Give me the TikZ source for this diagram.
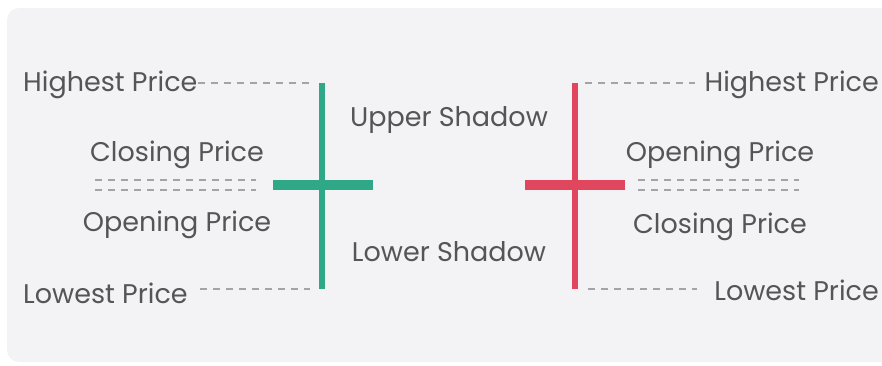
\documentclass[tikz,border=0pt]{standalone}
\usepackage{fontspec}
\setmainfont{Poppins}
\definecolor{panel}{HTML}{F3F3F6}
\definecolor{bull}{HTML}{2EA886}
\definecolor{bear}{HTML}{E0465E}
\definecolor{txt}{HTML}{555555}
\definecolor{dash}{HTML}{A4A4A8}
\begin{document}
\begin{tikzpicture}[x=1pt,y=-1pt,
  lbl/.style={font=\fontsize{27}{32}\selectfont, text=txt, inner sep=0pt},
  guide/.style={draw=dash, line width=1.5pt, dash pattern=on 7pt off 6pt},
  wick/.style={line width=6pt},
  body/.style={line width=10pt}]
\useasboundingbox (0,0) rectangle (882,365);
\fill[white] (0,0) rectangle (882,365);
\fill[panel, rounded corners=12pt] (7,8) rectangle (900,362);
% green candle
\coordinate (gt) at (322,83);
\coordinate (gb) at (322,289);
\coordinate (gl) at (273,185);
\coordinate (gr) at (373,185);
\draw[bull, wick] (gt) -- (gb);
\draw[bull, body] (gl) -- (gr);
% red candle
\coordinate (rt) at (575,83);
\coordinate (rb) at (575,289);
\coordinate (rl) at (525,185);
\coordinate (rr) at (625,185);
\draw[bear, wick] (rt) -- (rb);
\draw[bear, body] (rl) -- (rr);
% left labels
\node[lbl, anchor=west] (lh) at (23,85) {Highest Price};
\node[lbl] (lc) at (177,155) {Closing Price};
\node[lbl] (lo) at (177,225) {Opening Price};
\node[lbl, anchor=west] (ll) at (23,293) {Lowest Price};
\node[lbl] (us) at (449,120) {Upper Shadow};
\node[lbl] (ls) at (449,252) {Lower Shadow};
\coordinate (lhe) at (310,83);
\coordinate (lle0) at (200,289);
\coordinate (lle) at (310,289);
\draw[guide] (lh.east |- lhe) -- (lhe);
\draw[guide] (lle0) -- (lle);
\coordinate (ld1a) at (95,180); \coordinate (ld1b) at (256,180);
\coordinate (ld2a) at (95,190); \coordinate (ld2b) at (256,190);
\draw[guide] (ld1a) -- (ld1b);
\draw[guide] (ld2a) -- (ld2b);
% right labels
\node[lbl, anchor=east] (rh) at (879,85) {Highest Price};
\node[lbl] (ro) at (720,155) {Opening Price};
\node[lbl] (rc) at (720,227) {Closing Price};
\node[lbl, anchor=east] (rl2) at (879,290) {Lowest Price};
\coordinate (rhs) at (585,83); \coordinate (rhe) at (695,83);
\coordinate (rls) at (588,289); \coordinate (rle) at (697,289);
\draw[guide] (rhs) -- (rhe);
\draw[guide] (rls) -- (rle);
\coordinate (rd1a) at (638,180); \coordinate (rd1b) at (799,180);
\coordinate (rd2a) at (638,190); \coordinate (rd2b) at (799,190);
\draw[guide] (rd1a) -- (rd1b);
\draw[guide] (rd2a) -- (rd2b);
\end{tikzpicture}
\end{document}
